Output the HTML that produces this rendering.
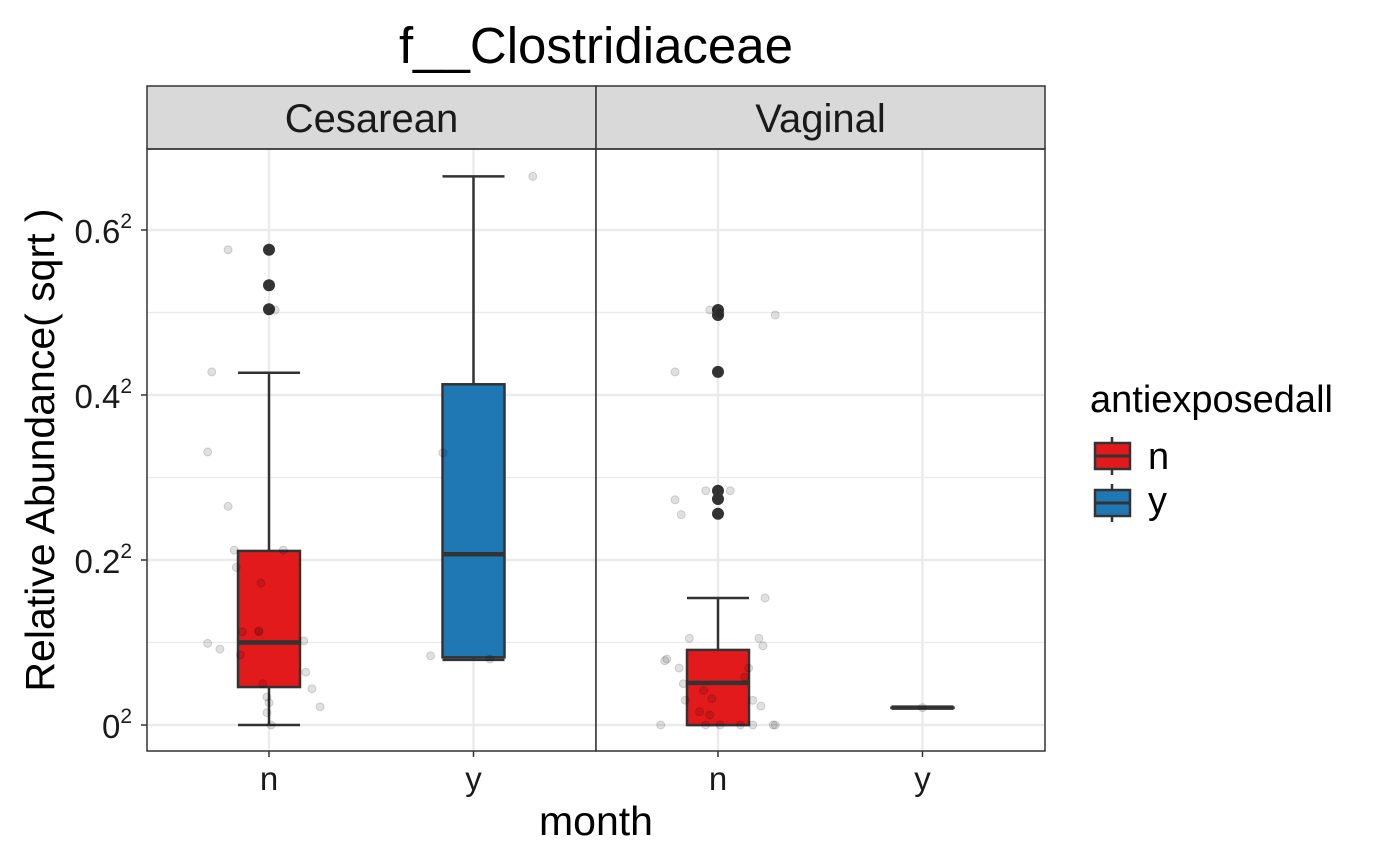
<!DOCTYPE html>
<html><head><meta charset="utf-8"><style>
html,body{margin:0;padding:0;background:#fff;}
svg{display:block;font-family:"Liberation Sans",Arial,sans-serif;}
</style></head><body>
<svg id="chart" width="1400" height="866" viewBox="0 0 1400 866">
<text x="596" y="63" font-size="51" text-anchor="middle">f__Clostridiaceae</text>
<text transform="translate(54,450) rotate(-90)" font-size="41" text-anchor="middle">Relative Abundance( sqrt )</text>
<text x="596" y="835" font-size="41" text-anchor="middle">month</text>
<g id="panels"></g>
<g>
<text x="1090" y="412" font-size="38">antiexposedall</text>
<g>
<line x1="1112" y1="437" x2="1112" y2="475" stroke="#333" stroke-width="2.5"/>
<rect x="1095" y="443" width="35" height="26" fill="#e31a1c" stroke="#333" stroke-width="2.5"/>
<line x1="1095" y1="456" x2="1130" y2="456" stroke="#333" stroke-width="3"/>
<text x="1148" y="469" font-size="38">n</text></g>
<g>
<line x1="1112" y1="484" x2="1112" y2="522" stroke="#333" stroke-width="2.5"/>
<rect x="1095" y="490" width="35" height="26" fill="#1f78b4" stroke="#333" stroke-width="2.5"/>
<line x1="1095" y1="503" x2="1130" y2="503" stroke="#333" stroke-width="3"/>
<text x="1148" y="513" font-size="38">y</text></g>
</g>
</svg>
<script>
const panelNames=["Cesarean","Vaginal"];
const categories=["n","y"];
const yTicks=[0,0.2,0.4,0.6];
const yTickLabels=["0","0.2","0.4","0.6"];
const yMinor=[0.1,0.3,0.5];
// box stats per panel/category: [lowWhisker,q1,median,q3,highWhisker]
const cesN=[0,0.046,0.100,0.211,0.427];
const cesY=[0.079,0.082,0.207,0.413,0.665];
const vagN=[0,0,0.051,0.091,0.154];
const vagY=[0.021,0.021,0.021,0.021,0.021];
const cesNOut=[0.576,0.533,0.504];
const cesYOut=[];
const vagNOut=[0.503,0.497,0.428,0.284,0.274,0.256];
const vagYOut=[];
const cesNJitVal=[.576,.428,.331,.265,.191,.172,.503,.212,.212,.099,.092,.113,.113,.085,.102,.064,.044,.022,.050,.034,.027,.015,0,.114];
const cesNJitOff=[-.20,-.28,-.30,-.20,-.16,-.04,.03,.07,-.17,-.30,-.24,-.13,-.05,-.14,.17,.18,.21,.25,-.03,-.01,0,-.01,.01,-.05];
const cesYJitVal=[.330,.084,.080,.665];
const cesYJitOff=[-.15,-.21,.08,.29];
const vagNJitVal=[.428,.273,.255,.284,.284,.503,.499,.497,.154,.105,.080,.078,.069,.050,.030,.016,.012,0,0,0,0,0,0,0,.105,.096,.030,.023,.069,.058,.042,.032];
const vagNJitOff=[-.21,-.21,-.18,-.06,.06,-.04,.01,.28,.23,-.14,-.25,-.26,-.19,-.17,-.16,-.09,-.04,-.28,-.06,.01,.11,.17,.27,.28,.2,.22,.17,.21,.15,.13,-.07,-.03];
const vagYJitVal=[.021];
const vagYJitOff=[0];
const colors=["#e31a1c","#1f78b4"];

const NS="http://www.w3.org/2000/svg";
const plotTop=149,plotBottom=751;
const yScale=v=>725-v*825;
const panelX=[147,596],panelW=449;
const xScale=(p,c)=>panelX[p]+122+c*204.5;
const boxes=[[cesN,cesY],[vagN,vagY]];
const outs=[[cesNOut,cesYOut],[vagNOut,vagYOut]];
const jv=[[cesNJitVal,cesYJitVal],[vagNJitVal,vagYJitVal]];
const jo=[[cesNJitOff,cesYJitOff],[vagNJitOff,vagYJitOff]];
const root=document.getElementById('panels');
function mk(tag,attrs,parent){const e=document.createElementNS(NS,tag);for(const k in attrs)e.setAttribute(k,attrs[k]);parent.appendChild(e);return e;}
for(let p=0;p<2;p++){
  const g=mk('g',{},root);
  
  
  const x0=panelX[p];
  mk('rect',{x:x0,y:plotTop,width:panelW,height:plotBottom-plotTop,fill:'#fff'},g);
  yMinor.forEach(v=>mk('line',{x1:x0,x2:x0+panelW,y1:yScale(v),y2:yScale(v),stroke:'#ebebeb','stroke-width':1.2},g));
  yTicks.forEach(v=>mk('line',{x1:x0,x2:x0+panelW,y1:yScale(v),y2:yScale(v),stroke:'#ebebeb','stroke-width':2.4},g));
  categories.forEach((c,i)=>{
    mk('line',{x1:xScale(p,i),x2:xScale(p,i),y1:plotTop,y2:plotBottom,stroke:'#ebebeb','stroke-width':2.4},g);
    const t=mk('text',{x:xScale(p,i),y:790,'font-size':33,'text-anchor':'middle',fill:'#1a1a1a'},g);
    t.textContent=c;
    
    
  });
  const s=mk('rect',{x:x0,y:86,width:panelW,height:63,fill:'#d9d9d9',stroke:'#333','stroke-width':1.5},g);
  
  
  const st=mk('text',{x:x0+panelW/2,y:132,'font-size':40,'text-anchor':'middle',fill:'#1a1a1a'},g);
  st.textContent=panelNames[p];
  categories.forEach((c,i)=>{
    const b=boxes[p][i],cx=xScale(p,i),hw=31;
    const bg=mk('g',{},g);
    
    
    mk('line',{x1:cx,x2:cx,y1:yScale(b[0]),y2:yScale(b[1]),stroke:'#333','stroke-width':2.5},bg);
    mk('line',{x1:cx,x2:cx,y1:yScale(b[3]),y2:yScale(b[4]),stroke:'#333','stroke-width':2.5},bg);
    mk('line',{x1:cx-hw,x2:cx+hw,y1:yScale(b[0]),y2:yScale(b[0]),stroke:'#333','stroke-width':2.5},bg);
    mk('line',{x1:cx-hw,x2:cx+hw,y1:yScale(b[4]),y2:yScale(b[4]),stroke:'#333','stroke-width':2.5},bg);
    mk('rect',{x:cx-hw,y:yScale(b[3]),width:2*hw,height:Math.max(0.1,yScale(b[1])-yScale(b[3])),fill:colors[i],stroke:'#333','stroke-width':2.5},bg);
    mk('line',{x1:cx-hw,x2:cx+hw,y1:yScale(b[2]),y2:yScale(b[2]),stroke:'#333','stroke-width':4.5},bg);
    outs[p][i].forEach(v=>{const o=mk('circle',{cx:cx,cy:yScale(v),r:6,fill:'#333'},bg);
      
      });
    jv[p][i].forEach((v,k)=>{const d=mk('circle',{cx:cx+jo[p][i][k]*204.5,cy:yScale(v),r:4,fill:'rgba(0,0,0,0.12)',stroke:'rgba(0,0,0,0.15)','stroke-width':1},g);
      
      });
  });
  mk('rect',{x:x0,y:plotTop,width:panelW,height:plotBottom-plotTop,fill:'none',stroke:'#333','stroke-width':1.5},g);
}
yTicks.forEach((v,i)=>{
  const y=yScale(v);
  mk('line',{x1:141,x2:147,y1:y,y2:y,stroke:'#333','stroke-width':1.5},root);
  const t=mk('text',{x:132,y:y+13,'font-size':33,'text-anchor':'end',fill:'#1a1a1a'},root);
  
  
  const a=document.createElementNS(NS,'tspan');a.textContent=yTickLabels[i];t.appendChild(a);
  const b=document.createElementNS(NS,'tspan');b.textContent='2';b.setAttribute('font-size','21');b.setAttribute('dy','-15');t.appendChild(b);
});
categories.forEach((c,i)=>{for(let p=0;p<2;p++)mk('line',{x1:xScale(p,i),x2:xScale(p,i),y1:751,y2:757,stroke:'#333','stroke-width':1.5},root);});
</script>
</body></html>
